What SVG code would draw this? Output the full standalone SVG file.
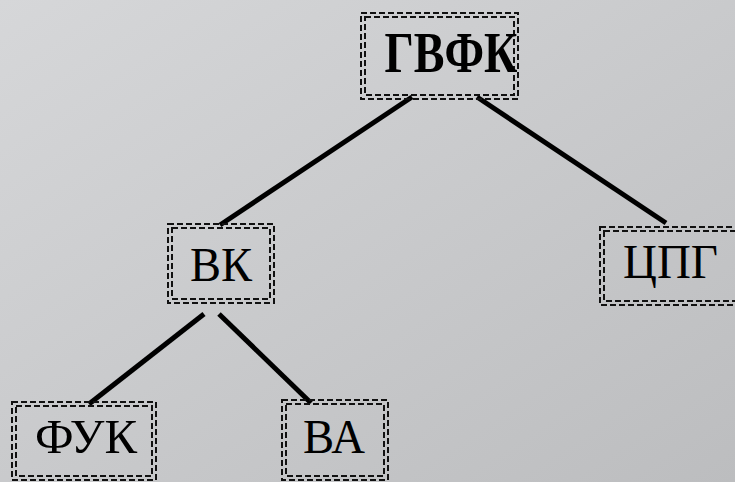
<svg xmlns="http://www.w3.org/2000/svg" width="735" height="482" viewBox="0 0 735 482">
<defs>
<linearGradient id="bg" x1="0" y1="0" x2="1" y2="1">
<stop offset="0" stop-color="#d6d7d9"/>
<stop offset="1" stop-color="#bcbdbf"/>
</linearGradient>
<style>
.box{fill:none;stroke:#111;stroke-width:2;stroke-dasharray:6 3}
.t{font-family:"Liberation Serif","DejaVu Serif",serif;fill:#000;text-anchor:middle}
.c{stroke:#000;stroke-width:5;stroke-linecap:butt;fill:none}
</style>
</defs>
<rect width="735" height="482" fill="url(#bg)"/>
<g id="connectors">
<line class="c" x1="412" y1="97" x2="220" y2="225"/>
<line class="c" x1="477" y1="97" x2="666" y2="223"/>
<line class="c" x1="204" y1="314" x2="89" y2="404"/>
<line class="c" x1="219" y1="314" x2="311" y2="403"/>
</g>
<g id="n-gvfk">
<rect class="box" x="361" y="13" width="157" height="86"/>
<rect class="box" x="365" y="17" width="149" height="78"/>
<text class="t" x="451" y="72" font-size="56" font-weight="bold" textLength="133" lengthAdjust="spacingAndGlyphs">ГВФК</text>
</g>
<g id="n-vk">
<rect class="box" x="168" y="224" width="106" height="79"/>
<rect class="box" x="172" y="228" width="98" height="71"/>
<text class="t" x="221" y="281" font-size="48" textLength="62" lengthAdjust="spacingAndGlyphs">ВК</text>
</g>
<g id="n-cpg">
<rect class="box" x="600" y="227" width="140" height="78"/>
<rect class="box" x="604" y="231" width="140" height="70"/>
<text class="t" x="670.5" y="278" font-size="48" textLength="95" lengthAdjust="spacingAndGlyphs">ЦПГ</text>
</g>
<g id="n-fuk">
<rect class="box" x="12" y="402" width="144" height="78"/>
<rect class="box" x="16" y="406" width="136" height="70"/>
<text class="t" x="86" y="453" font-size="48" textLength="102" lengthAdjust="spacingAndGlyphs">ФУК</text>
</g>
<g id="n-va">
<rect class="box" x="282" y="400" width="106" height="80"/>
<rect class="box" x="286" y="404" width="98" height="72"/>
<text class="t" x="334" y="453" font-size="48" textLength="62" lengthAdjust="spacingAndGlyphs">ВА</text>
</g>
</svg>
